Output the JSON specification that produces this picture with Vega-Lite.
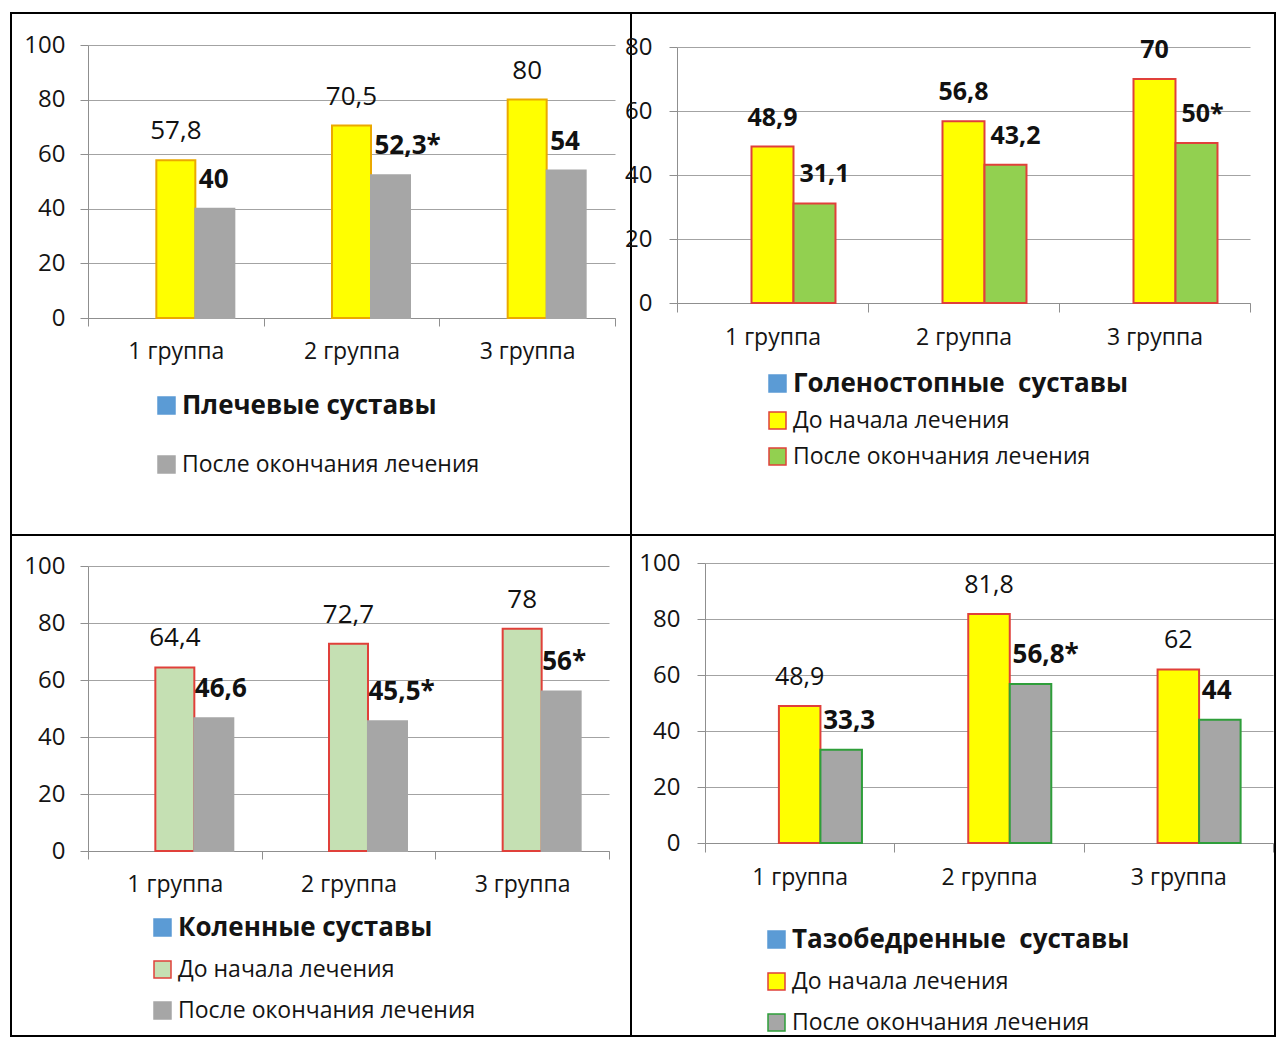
{
  "$schema": "https://vega.github.io/schema/vega-lite/v6.json",
  "padding": {"left": 10, "top": 12, "right": 0, "bottom": 0},
  "background": "#ffffff",
  "columns": 2,
  "spacing": 0,
  "bounds": "flush",
  "align": "each",
  "resolve": {
    "scale": {"x": "independent", "y": "independent", "xOffset": "independent", "fill": "independent", "stroke": "independent"},
    "legend": {"fill": "independent", "stroke": "independent"}
  },
  "datasets": {
    "joints": [
      {"joint": "Плечевые суставы", "group": "1 группа", "series": "До начала лечения", "value": 57.8, "label": "57,8"},
      {"joint": "Плечевые суставы", "group": "1 группа", "series": "После окончания лечения", "value": 40, "label": "40"},
      {"joint": "Плечевые суставы", "group": "2 группа", "series": "До начала лечения", "value": 70.5, "label": "70,5"},
      {"joint": "Плечевые суставы", "group": "2 группа", "series": "После окончания лечения", "value": 52.3, "label": "52,3*"},
      {"joint": "Плечевые суставы", "group": "3 группа", "series": "До начала лечения", "value": 80, "label": "80"},
      {"joint": "Плечевые суставы", "group": "3 группа", "series": "После окончания лечения", "value": 54, "label": "54"},
      {"joint": "Голеностопные суставы", "group": "1 группа", "series": "До начала лечения", "value": 48.9, "label": "48,9"},
      {"joint": "Голеностопные суставы", "group": "1 группа", "series": "После окончания лечения", "value": 31.1, "label": "31,1"},
      {"joint": "Голеностопные суставы", "group": "2 группа", "series": "До начала лечения", "value": 56.8, "label": "56,8"},
      {"joint": "Голеностопные суставы", "group": "2 группа", "series": "После окончания лечения", "value": 43.2, "label": "43,2"},
      {"joint": "Голеностопные суставы", "group": "3 группа", "series": "До начала лечения", "value": 70, "label": "70"},
      {"joint": "Голеностопные суставы", "group": "3 группа", "series": "После окончания лечения", "value": 50, "label": "50*"},
      {"joint": "Коленные суставы", "group": "1 группа", "series": "До начала лечения", "value": 64.4, "label": "64,4"},
      {"joint": "Коленные суставы", "group": "1 группа", "series": "После окончания лечения", "value": 46.6, "label": "46,6"},
      {"joint": "Коленные суставы", "group": "2 группа", "series": "До начала лечения", "value": 72.7, "label": "72,7"},
      {"joint": "Коленные суставы", "group": "2 группа", "series": "После окончания лечения", "value": 45.5, "label": "45,5*"},
      {"joint": "Коленные суставы", "group": "3 группа", "series": "До начала лечения", "value": 78, "label": "78"},
      {"joint": "Коленные суставы", "group": "3 группа", "series": "После окончания лечения", "value": 56, "label": "56*"},
      {"joint": "Тазобедренные суставы", "group": "1 группа", "series": "До начала лечения", "value": 48.9, "label": "48,9"},
      {"joint": "Тазобедренные суставы", "group": "1 группа", "series": "После окончания лечения", "value": 33.3, "label": "33,3"},
      {"joint": "Тазобедренные суставы", "group": "2 группа", "series": "До начала лечения", "value": 81.8, "label": "81,8"},
      {"joint": "Тазобедренные суставы", "group": "2 группа", "series": "После окончания лечения", "value": 56.8, "label": "56,8*"},
      {"joint": "Тазобедренные суставы", "group": "3 группа", "series": "До начала лечения", "value": 62, "label": "62"},
      {"joint": "Тазобедренные суставы", "group": "3 группа", "series": "После окончания лечения", "value": 44, "label": "44"}
    ]
  },
  "config": {
    "font": "Open Sans",
    "view": {"stroke": "#000000", "strokeWidth": 2},
    "axis": {
      "labelFont": "Open Sans",
      "labelColor": "#141414",
      "domainColor": "#8f8f8f",
      "tickColor": "#8f8f8f",
      "gridColor": "#a3a3a3",
      "domainWidth": 1,
      "tickWidth": 1,
      "gridWidth": 1
    },
    "legend": {
      "labelFont": "Open Sans",
      "labelColor": "#141414",
      "labelLimit": 600,
      "padding": 0,
      "symbolType": "square",
      "symbolSize": 289,
      "symbolStrokeWidth": 1.5,
      "labelOffset": 4
    }
  },
  "concat": [
    {
      "width": 620,
      "height": 522,
      "data": {"name": "joints"},
      "transform": [{"filter": "datum.joint === 'Плечевые суставы'"}],
      "encoding": {
        "x": {
          "field": "group", "type": "nominal", "title": null,
          "scale": {"range": [77, 604], "paddingInner": 0, "paddingOuter": 0},
          "axis": {"offset": -217, "tickBand": "extent", "labelAngle": 0, "labelFontSize": 23, "labelPadding": 14, "tickSize": 8}
        },
        "xOffset": {
          "field": "series", "type": "nominal",
          "scale": {"domain": ["Плечевые суставы", "До начала лечения", "После окончания лечения"], "paddingInner": 0, "paddingOuter": 0.752}
        },
        "y": {
          "field": "value", "type": "quantitative", "title": null,
          "scale": {"domain": [0, 100], "range": [305, 32], "nice": false},
          "axis": {"offset": -77, "values": [0, 20, 40, 60, 80, 100], "grid": true, "labelFontSize": 24, "labelPadding": 15, "tickSize": 8}
        }
      },
      "layer": [
        {
          "mark": {"type": "bar", "strokeWidth": 2},
          "encoding": {
            "fill": {
              "field": "series", "type": "nominal",
              "scale": {"domain": ["Плечевые суставы", "До начала лечения", "После окончания лечения"], "range": ["#5B9BD5", "#FFFF00", "#A6A6A6"]},
              "legend": {"title": null, "orient": "none", "legendX": 144, "legendY": 381, "direction": "vertical", "rowPadding": 34, "labelFontSize": 23,
                "values": ["Плечевые суставы", "После окончания лечения"],
                "encode": {"labels": {"update": {"fontWeight": {"signal": "datum.index === 0 ? 'bold' : 'normal'"}, "fontSize": {"signal": "datum.index === 0 ? 26 : 23"}}}}}
            },
            "stroke": {
              "field": "series", "type": "nominal",
              "scale": {"domain": ["Плечевые суставы", "До начала лечения", "После окончания лечения"], "range": ["#5B9BD5", "#EBA900", "#A6A6A6"]},
              "legend": {"title": null, "orient": "none", "legendX": 144, "legendY": 381, "direction": "vertical", "rowPadding": 34, "labelFontSize": 23,
                "values": ["Плечевые суставы", "После окончания лечения"],
                "encode": {"labels": {"update": {"fontWeight": {"signal": "datum.index === 0 ? 'bold' : 'normal'"}, "fontSize": {"signal": "datum.index === 0 ? 26 : 23"}}}}}
            }
          }
        },
        {
          "transform": [{"filter": "datum.series === 'До начала лечения'"}],
          "mark": {"type": "text", "baseline": "middle", "dy": -29, "fontSize": 26, "color": "#111111"},
          "encoding": {"text": {"field": "label", "type": "nominal"}}
        },
        {
          "transform": [{"filter": "datum.series === 'После окончания лечения'"}],
          "mark": {"type": "text", "align": "left", "baseline": "middle", "dx": -16, "dy": -29, "fontSize": 26, "fontWeight": "bold", "color": "#111111"},
          "encoding": {"text": {"field": "label", "type": "nominal"}}
        }
      ]
    },
    {
      "width": 644,
      "height": 522,
      "data": {"name": "joints"},
      "transform": [{"filter": "datum.joint === 'Голеностопные суставы'"}],
      "encoding": {
        "x": {
          "field": "group", "type": "nominal", "title": null,
          "scale": {"range": [46, 619], "paddingInner": 0, "paddingOuter": 0},
          "axis": {"offset": -232, "tickBand": "extent", "labelAngle": 0, "labelFontSize": 23, "labelPadding": 14, "tickSize": 9}
        },
        "xOffset": {
          "field": "series", "type": "nominal",
          "scale": {"domain": ["Голеностопные\u00a0 суставы", "До начала лечения", "После окончания лечения"], "paddingInner": 0, "paddingOuter": 0.774}
        },
        "y": {
          "field": "value", "type": "quantitative", "title": null,
          "scale": {"domain": [0, 80], "range": [290, 34], "nice": false},
          "axis": {"offset": -46, "values": [0, 20, 40, 60, 80], "grid": true, "labelFontSize": 24, "labelPadding": 17, "tickSize": 8}
        }
      },
      "layer": [
        {
          "mark": {"type": "bar", "strokeWidth": 2},
          "encoding": {
            "fill": {
              "field": "series", "type": "nominal",
              "scale": {"domain": ["Голеностопные\u00a0 суставы", "До начала лечения", "После окончания лечения"], "range": ["#5B9BD5", "#FFFF00", "#92D050"]},
              "legend": {"title": null, "orient": "none", "legendX": 135, "legendY": 359, "direction": "vertical", "rowPadding": 12, "labelFontSize": 23,
                "encode": {"labels": {"update": {"fontWeight": {"signal": "datum.index === 0 ? 'bold' : 'normal'"}, "fontSize": {"signal": "datum.index === 0 ? 26 : 23"}}}}}
            },
            "stroke": {
              "field": "series", "type": "nominal",
              "scale": {"domain": ["Голеностопные\u00a0 суставы", "До начала лечения", "После окончания лечения"], "range": ["#5B9BD5", "#E0403A", "#E0403A"]},
              "legend": {"title": null, "orient": "none", "legendX": 135, "legendY": 359, "direction": "vertical", "rowPadding": 12, "labelFontSize": 23,
                "encode": {"labels": {"update": {"fontWeight": {"signal": "datum.index === 0 ? 'bold' : 'normal'"}, "fontSize": {"signal": "datum.index === 0 ? 26 : 23"}}}}}
            }
          }
        },
        {
          "transform": [{"filter": "datum.series === 'До начала лечения'"}],
          "mark": {"type": "text", "baseline": "middle", "dy": -29, "fontSize": 25, "fontWeight": "bold", "color": "#111111"},
          "encoding": {"text": {"field": "label", "type": "nominal"}}
        },
        {
          "transform": [{"filter": "datum.series === 'После окончания лечения'"}],
          "mark": {"type": "text", "align": "left", "baseline": "middle", "dx": -15, "dy": -29, "fontSize": 25, "fontWeight": "bold", "color": "#111111"},
          "encoding": {"text": {"field": "label", "type": "nominal"}}
        }
      ]
    },
    {
      "width": 620,
      "height": 501,
      "data": {"name": "joints"},
      "transform": [{"filter": "datum.joint === 'Коленные суставы'"}],
      "encoding": {
        "x": {
          "field": "group", "type": "nominal", "title": null,
          "scale": {"range": [77, 598], "paddingInner": 0, "paddingOuter": 0},
          "axis": {"offset": -185, "tickBand": "extent", "labelAngle": 0, "labelFontSize": 23, "labelPadding": 14, "tickSize": 8}
        },
        "xOffset": {
          "field": "series", "type": "nominal",
          "scale": {"domain": ["Коленные суставы", "До начала лечения", "После окончания лечения"], "paddingInner": 0, "paddingOuter": 0.727}
        },
        "y": {
          "field": "value", "type": "quantitative", "title": null,
          "scale": {"domain": [0, 100], "range": [316, 31], "nice": false},
          "axis": {"offset": -77, "values": [0, 20, 40, 60, 80, 100], "grid": true, "labelFontSize": 24, "labelPadding": 15, "tickSize": 8}
        }
      },
      "layer": [
        {
          "mark": {"type": "bar", "strokeWidth": 2},
          "encoding": {
            "fill": {
              "field": "series", "type": "nominal",
              "scale": {"domain": ["Коленные суставы", "До начала лечения", "После окончания лечения"], "range": ["#5B9BD5", "#C5E0B3", "#A6A6A6"]},
              "legend": {"title": null, "orient": "none", "legendX": 140, "legendY": 381, "direction": "vertical", "rowPadding": 17, "labelFontSize": 23,
                "encode": {"labels": {"update": {"fontWeight": {"signal": "datum.index === 0 ? 'bold' : 'normal'"}, "fontSize": {"signal": "datum.index === 0 ? 26 : 23"}}}}}
            },
            "stroke": {
              "field": "series", "type": "nominal",
              "scale": {"domain": ["Коленные суставы", "До начала лечения", "После окончания лечения"], "range": ["#5B9BD5", "#E0403A", "#A6A6A6"]},
              "legend": {"title": null, "orient": "none", "legendX": 140, "legendY": 381, "direction": "vertical", "rowPadding": 17, "labelFontSize": 23,
                "encode": {"labels": {"update": {"fontWeight": {"signal": "datum.index === 0 ? 'bold' : 'normal'"}, "fontSize": {"signal": "datum.index === 0 ? 26 : 23"}}}}}
            }
          }
        },
        {
          "transform": [{"filter": "datum.series === 'До начала лечения'"}],
          "mark": {"type": "text", "baseline": "middle", "dy": -29, "fontSize": 26, "color": "#111111"},
          "encoding": {"text": {"field": "label", "type": "nominal"}}
        },
        {
          "transform": [{"filter": "datum.series === 'После окончания лечения'"}],
          "mark": {"type": "text", "align": "left", "baseline": "middle", "dx": -19, "dy": -29, "fontSize": 26, "fontWeight": "bold", "color": "#111111"},
          "encoding": {"text": {"field": "label", "type": "nominal"}}
        }
      ]
    },
    {
      "width": 644,
      "height": 501,
      "data": {"name": "joints"},
      "transform": [{"filter": "datum.joint === 'Тазобедренные суставы'"}],
      "encoding": {
        "x": {
          "field": "group", "type": "nominal", "title": null,
          "scale": {"range": [74, 642], "paddingInner": 0, "paddingOuter": 0},
          "axis": {"offset": -193, "tickBand": "extent", "labelAngle": 0, "labelFontSize": 23, "labelPadding": 14, "tickSize": 9}
        },
        "xOffset": {
          "field": "series", "type": "nominal",
          "scale": {"domain": ["Тазобедренные\u00a0 суставы", "До начала лечения", "После окончания лечения"], "paddingInner": 0, "paddingOuter": 0.78}
        },
        "y": {
          "field": "value", "type": "quantitative", "title": null,
          "scale": {"domain": [0, 100], "range": [308, 28], "nice": false},
          "axis": {"offset": -74, "values": [0, 20, 40, 60, 80, 100], "grid": true, "labelFontSize": 24, "labelPadding": 17, "tickSize": 8}
        }
      },
      "layer": [
        {
          "mark": {"type": "bar", "strokeWidth": 2},
          "encoding": {
            "fill": {
              "field": "series", "type": "nominal",
              "scale": {"domain": ["Тазобедренные\u00a0 суставы", "До начала лечения", "После окончания лечения"], "range": ["#5B9BD5", "#FFFF00", "#A6A6A6"]},
              "legend": {"title": null, "orient": "none", "legendX": 134, "legendY": 393, "direction": "vertical", "rowPadding": 17, "labelFontSize": 23,
                "encode": {"labels": {"update": {"fontWeight": {"signal": "datum.index === 0 ? 'bold' : 'normal'"}, "fontSize": {"signal": "datum.index === 0 ? 26 : 23"}}}}}
            },
            "stroke": {
              "field": "series", "type": "nominal",
              "scale": {"domain": ["Тазобедренные\u00a0 суставы", "До начала лечения", "После окончания лечения"], "range": ["#5B9BD5", "#E0403A", "#2E9E3A"]},
              "legend": {"title": null, "orient": "none", "legendX": 134, "legendY": 393, "direction": "vertical", "rowPadding": 17, "labelFontSize": 23,
                "encode": {"labels": {"update": {"fontWeight": {"signal": "datum.index === 0 ? 'bold' : 'normal'"}, "fontSize": {"signal": "datum.index === 0 ? 26 : 23"}}}}}
            }
          }
        },
        {
          "transform": [{"filter": "datum.series === 'До начала лечения'"}],
          "mark": {"type": "text", "baseline": "middle", "dy": -29, "fontSize": 25, "color": "#111111"},
          "encoding": {"text": {"field": "label", "type": "nominal"}}
        },
        {
          "transform": [{"filter": "datum.series === 'После окончания лечения'"}],
          "mark": {"type": "text", "align": "left", "baseline": "middle", "dx": -18, "dy": -29, "fontSize": 26, "fontWeight": "bold", "color": "#111111"},
          "encoding": {"text": {"field": "label", "type": "nominal"}}
        }
      ]
    }
  ]
}
